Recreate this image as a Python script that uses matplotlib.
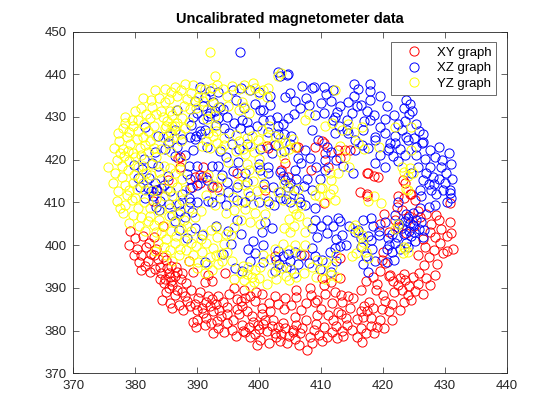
import matplotlib
matplotlib.use("Agg")
import matplotlib.pyplot as plt

# ---------------- data ----------------
xy_pts = [
(379.2,403.2),(379.0,400.0),(380.2,399.2),(381.0,397.6),(381.8,399.6),(382.6,398.0),(383.4,399.0),(380.6,396.0),(382.0,396.4),(383.6,396.8),(381.0,394.2),(382.4,393.8),(384.0,395.0),(385.0,396.5),
(384.2,393.5),(384.8,392.2),(385.4,393.4),(385.8,391.6),(386.4,392.8),(384.6,391.2),(385.2,394.6),(386.0,390.6),(386.8,393.8),(387.4,392.0),(385.6,392.6),(384.0,392.0),
(384.3,387.2),(385.0,389.0),(385.6,386.4),(386.4,388.4),(387.0,386.0),(387.6,389.0),(386.0,385.4),(387.7,384.8),(388.4,387.0),(389.3,382.0),
(389.6,386.2),(390.2,387.6),(390.8,385.4),(391.4,386.8),(392.0,385.8),(392.4,387.4),(393.0,386.2),(393.6,384.8),(394.2,386.6),(391.0,384.2),(392.6,384.6),(390.0,384.8),(391.8,388.2),(393.4,388.0),(394.8,385.6),(391.5,383.0),(392.6,379.4),(394.8,381.7),(394.4,379.6),(393.2,382.2),
(395.8,382.5),(396.4,385.0),(397.0,387.0),(397.7,387.6),(399.3,386.9),(396.8,383.8),(398.0,384.6),
(397.2,381.4),(397.8,379.6),(398.4,380.8),(399.0,382.0),(399.4,379.2),(400.0,380.4),(400.6,381.6),(401.2,379.8),(398.6,378.6),(400.2,377.8),(397.4,380.0),(399.8,381.4),(401.0,382.6),(402.0,381.0),
(403.0,380.8),(403.6,379.2),(404.2,380.6),(404.8,378.8),(405.4,380.2),(406.0,381.4),(406.6,379.4),(404.5,377.0),(405.8,378.0),(403.8,381.8),(407.0,380.6),(407.7,375.5),(405.5,379.6),(402.6,379.4),
(408.2,378.6),(408.8,380.2),(409.6,379.0),(410.4,380.8),(411.0,378.4),(411.8,379.6),(412.4,381.2),(409.2,381.6),
(409.3,387.2),(410.0,385.0),(410.6,388.6),(411.2,383.6),(411.8,386.4),(410.4,390.6),(411.6,391.4),
(412.8,384.4),(413.4,386.6),(414.0,383.0),(414.6,385.4),(415.2,387.6),(415.8,382.8),(413.2,388.4),(414.4,388.0),
(415.8,378.6),(416.4,380.6),(417.2,379.4),(418.0,381.0),(415.0,380.2),
(416.8,383.2),(417.4,384.6),(418.0,383.0),(418.4,385.4),(417.0,385.8),(417.8,386.8),(416.4,384.6),
(419.5,382.5),(419.8,385.0),(420.4,387.0),(421.0,384.6),(420.0,388.4),
(421.4,386.2),(422.7,384.8),(421.8,389.0),(422.4,390.6),(423.0,389.6),(423.6,391.8),(424.2,390.4),(424.8,392.6),(422.8,392.4),(421.6,391.6),(423.4,393.2),(424.0,388.4),(421.2,393.0),
(427.6,390.7),(425.8,393.6),(426.6,395.4),(427.4,397.2),(428.2,398.8),(425.6,397.8),(426.8,399.6),(428.8,395.6),(429.7,398.2),(431.3,399.0),(430.4,398.6),
(426.5,401.4),(427.6,403.0),(428.4,401.8),(429.4,403.8),(430.3,402.2),(430.8,405.5),(427.8,405.0),(429.0,405.8),
(421.0,403.0),(422.4,404.2),(423.8,402.8),(425.0,404.6),(426.0,406.6),(424.2,406.8),(427.0,407.4),(422.0,406.0),
(419.5,394.0),(420.4,395.8),(421.0,392.8),(419.8,396.6),(417.2,391.6),(418.4,392.6),(419.0,391.0),
(391.8,393.0),(394.5,393.6),(402.5,397.4),(407.3,397.8),(410.2,392.3),(413.0,392.3),(413.0,397.0),(399.5,389.0),(398.6,388.0),(400.4,388.6),
(403.0,386.2),(404.2,387.6),(405.2,386.0),(406.0,387.8),(406.7,384.8),(407.5,386.4),(408.4,388.4),(409.0,386.6),(404.0,385.0),
(384.4,404.6),(386.9,420.3),(389.6,416.0),(390.5,416.5),(389.2,413.6),(385.3,415.3),(383.5,413.0),(392.4,413.6),(401.0,412.9),
(401.5,422.8),(406.3,423.0),(409.0,423.0),(410.1,424.4),(410.6,421.6),(404.2,419.2),(404.7,416.0),(403.6,417.6),(411.2,418.4),
(410.4,423.9),(417.4,416.9),(418.5,416.3),(423.3,415.3),(422.2,409.0),(423.4,411.0),(424.3,412.0),(425.2,410.6),(430.8,409.8),(416.3,412.4),(406.0,423.0),(414.7,422.3),(410.4,409.8),(408.3,417.7),(417.4,411.6),
(413.9,422.3),(412.8,422.3),(413.0,420.4),(417.6,416.9),(419.2,416.0),(423.6,414.5),(422.5,411.4),(424.6,412.0),(417.5,412.0),
(387.2,420.7),(391.0,418.4),(391.5,416.0),(390.5,414.5),(393.2,413.7),(396.4,416.8),(401.2,423.1),(382.9,410.3),(387.2,418.4),
(391.3,391.3),(392.4,391.7),(388.6,396.4),(389.4,393.8),
(380.0,401.6),(381.2,402.2),(382.2,400.6),(383.0,401.8),(379.8,397.6),(381.6,395.2),(383.2,394.4),(383.0,397.8),(384.4,397.2),(385.8,395.2),
(386.6,395.0),(387.6,393.4),(388.2,391.2),(386.8,389.6),(385.4,390.0),(388.0,388.0),(388.8,385.8),(389.0,389.4),(390.4,389.0),(390.0,382.6),(391.2,381.4),(393.4,380.6),(395.6,380.2),(396.2,378.8),(396.4,387.4),(395.2,388.6),(396.0,390.0),(397.6,389.6),
(398.8,383.4),(400.4,383.8),(401.8,384.6),(402.2,382.6),(402.8,378.4),(403.4,377.6),(401.6,377.2),(399.6,376.6),(406.4,376.6),(408.6,377.0),(410.2,377.6),(412.6,378.2),(413.4,380.0),(414.2,381.4),(413.6,378.8),(416.6,377.4),(418.6,379.4),(419.0,380.8),(420.2,380.6),(421.4,382.4),(423.4,386.6),(424.6,387.2),(425.2,389.2),(425.6,391.0),(426.4,388.6),(427.0,392.4),(428.4,393.0),(429.2,400.4),(431.0,402.8),(428.6,407.0),(425.6,408.0),(423.0,408.2),(420.2,407.2),(419.6,405.0),(420.0,398.4),(418.8,389.6),(416.4,389.6),(412.2,389.0),(408.2,390.0),(406.0,389.6),(402.6,388.0),(401.6,386.4),(400.4,385.2),(397.2,385.8),(394.8,384.0),(393.8,383.4),(392.2,381.8),(389.8,380.8),
(405.8,383.2),(407.6,382.6),(409.4,383.6),(412.0,382.6),(413.2,383.8),
]

xz_pts = [
(396.9,445.3),(403.4,439.5),(404.5,439.8),(403.0,440.5),(404.6,440.0),
(390.5,437.0),(391.2,434.6),(392.0,436.0),(392.6,433.4),(393.4,435.8),(393.7,432.3),(391.0,432.6),(390.0,431.0),(389.6,433.8),(391.8,430.2),(392.8,431.4),
(395.8,436.2),(397.0,436.8),(398.6,436.4),(400.0,435.8),(401.8,435.0),(396.2,434.0),(397.6,432.0),(399.4,433.0),(400.6,431.6),(401.8,432.8),
(405.0,435.6),(405.8,433.8),(406.6,432.0),(404.2,434.6),(406.9,437.2),(408.5,436.8),
(391.0,429.6),(392.0,431.0),(393.4,429.8),(394.2,431.8),(394.8,430.0),
(386.7,431.6),(389.4,430.0),(389.0,428.2),(390.4,426.8),(391.3,427.0),(389.8,425.6),
(396.0,428.6),(397.2,429.4),(398.0,428.8),(400.2,431.6),(400.7,429.4),(401.8,429.4),(402.9,430.0),(403.8,428.4),(404.6,429.8),(405.6,430.6),(403.0,428.0),
(383.6,425.6),(386.4,427.0),(387.5,424.8),(388.8,425.4),(389.6,424.8),(390.6,426.0),(385.3,425.6),(385.3,424.0),(384.8,422.5),(383.2,421.7),(382.7,419.3),(381.1,417.8),(383.7,418.6),(385.3,416.2),(386.4,420.9),(388.6,418.6),(390.0,418.6),(381.6,427.7),
(396.9,427.4),(398.4,427.0),
(391.6,423.0),(393.7,422.0),(395.6,423.6),(396.8,422.4),(398.0,423.6),(400.2,422.4),(389.4,422.3),(386.8,423.0),
(393.4,418.6),(394.6,420.6),(396.6,419.4),(400.0,419.0),(401.5,416.8),(402.0,421.5),(403.1,425.9),(405.2,425.5),(404.0,422.0),(405.0,423.6),(404.0,426.0),
(395.8,417.4),(397.8,417.0),(400.2,417.6),(401.4,418.4),(403.4,417.2),(405.8,417.6),(406.8,419.2),(407.4,422.3),(406.2,420.4),
(388.8,415.6),(390.0,414.0),(390.8,416.0),(392.6,413.8),(391.6,415.2),
(382.0,413.4),(383.2,414.6),(384.6,414.0),(382.8,411.6),(384.0,410.4),(385.4,409.6),
(387.0,409.6),(388.6,411.0),(390.0,410.0),(391.8,410.4),(393.7,411.0),
(394.8,414.7),(396.4,413.6),(398.0,414.7),(397.8,410.0),(400.0,410.0),
(403.9,416.2),(405.0,414.6),(406.0,415.6),(405.6,413.0),(403.4,412.4),(402.4,409.4),(404.4,410.8),(406.6,410.2),(407.2,413.8),
(408.5,427.0),(409.5,424.6),(412.2,426.2),(412.2,430.0),(411.0,423.0),(410.6,417.6),(409.2,418.4),(404.7,413.6),(404.2,415.2),
(408.8,437.1),(410.4,437.1),(411.9,436.3),(410.0,433.2),(410.4,431.0),(413.1,432.5),(412.0,429.3),(415.3,435.0),(415.8,432.5),(415.3,437.7),(416.0,436.5),(417.9,437.7),(417.9,436.0),(417.9,434.0),(417.4,431.5),(418.5,430.5),(417.9,429.3),(414.2,429.3),(414.2,427.0),
(414.4,433.5),(415.0,431.0),(416.4,432.8),(417.0,429.0),(416.8,427.0),(412.9,428.0),(414.4,426.2),(415.5,424.6),(418.7,425.4),(420.3,426.2),(421.9,425.6),(423.0,427.0),(423.6,429.0),(424.2,430.6),(424.7,431.4),(423.8,434.0),(424.4,433.0),(423.4,432.0),
(426.3,423.8),(422.0,424.0),(422.8,422.6),(424.0,424.6),(425.4,423.0),(426.5,424.2),(427.6,422.3),(429.0,423.0),(430.7,421.6),(429.3,418.4),(428.1,416.0),(430.2,416.8),(427.5,414.4),(426.4,415.2),(424.6,416.8),(420.3,418.4),(420.8,422.3),(415.5,422.3),(416.6,423.4),(417.6,422.8),(418.7,424.6),(421.0,422.8),(418.7,419.2),(427.6,418.4),(428.2,414.4),(429.7,412.9),(430.8,412.9),(428.6,412.0),(426.2,411.4),(430.8,412.1),(421.1,423.9),(423.8,425.4),(426.5,426.0),
(412.4,420.0),(413.6,418.6),(415.2,417.0),
(392.4,410.2),(394.6,409.4),(396.4,410.6),(401.5,410.4),(403.4,411.0),(405.0,410.2),(406.4,411.0),(401.0,405.5),(402.0,404.0),
(402.6,394.0),(403.2,395.6),(403.8,397.4),(404.4,394.8),(405.0,396.4),(405.6,393.6),(406.2,395.6),(406.8,397.8),(403.0,398.6),(404.6,398.0),(405.8,398.4),(402.8,396.6),
(397.2,394.0),(396.1,394.6),(398.6,396.4),(399.4,398.2),(400.6,396.0),
(408.5,404.0),(409.0,405.8),(410.0,404.4),(411.0,406.0),(412.0,404.6),(413.0,405.6),(409.4,402.0),(411.0,402.8),(412.4,401.4),
(408.5,399.4),(409.0,397.4),(410.2,396.6),(411.4,398.4),(412.4,396.2),(413.0,399.8),(409.8,394.4),(411.6,393.8),(408.0,395.8),
(407.4,409.4),(409.0,408.6),
(412.3,399.3),(413.4,402.4),(414.5,404.6),(412.8,406.4),(414.0,400.0),
(416.0,403.6),(416.8,405.8),(417.6,402.2),(418.4,404.6),(419.3,403.4),(415.5,403.0),(416.4,401.6),(418.0,406.4),
(416.4,399.6),(417.2,397.4),(418.2,399.0),(418.7,396.2),(417.6,393.8),(416.8,395.6),(418.0,401.2),
(422.5,410.2),(422.0,407.0),(420.4,405.4),(421.4,402.6),(422.0,400.6),(421.0,400.0),(421.5,398.5),(419.4,402.4),(420.6,399.0),(420.8,401.6),
(423.0,404.0),(423.6,405.6),(424.2,403.4),(424.8,404.8),(425.4,406.0),(425.8,403.8),(424.0,406.4),(423.4,402.6),(424.6,402.2),(425.2,401.0),(423.8,400.6),(422.6,405.0),(424.4,405.2),(425.0,403.0),
(427.4,409.0),(428.4,409.4),(431.0,411.0),(430.4,410.0),(426.0,408.6),
(381.6,411.0),(382.6,412.6),(383.4,409.0),(384.2,413.4),(386.4,405.6),(387.2,408.0),(388.0,406.6),(388.8,410.2),(387.6,412.0),(389.1,407.8),(390.7,402.4),(391.3,396.1),(389.6,404.0),(387.0,403.6),(388.4,401.6),(386.0,407.0),
(383.4,413.0),(385.6,412.6),(388.8,413.4),
(393.0,404.6),(395.0,403.2),(396.4,406.0),(395.4,400.2),(394.2,398.0),
(397.0,402.6),(399.0,401.0),(400.4,403.0),(398.2,399.0),(400.6,400.0),
(425.4,421.0),(426.8,420.2),(428.4,420.6),(429.6,420.0),(431.0,419.0),(430.0,414.6),(429.0,415.6),(427.0,416.8),(425.6,418.2),(422.4,419.6),(421.6,420.8),(419.6,421.2),(423.6,421.0),(426.0,413.0),(427.8,413.0),(431.2,415.4),
(423.8,407.4),(424.8,407.6),(426.2,405.4),(426.6,403.6),(426.4,401.8),(422.2,402.0),(422.8,399.2),(424.0,399.6),(421.8,396.6),(420.6,396.0),
(419.6,434.8),(420.6,432.6),(421.8,430.4),(420.4,429.6),(419.6,427.6),(422.4,428.4),(425.4,428.4),(425.8,426.6),(425.0,425.0),
(410.8,435.4),(411.6,433.8),(412.6,431.2),(409.0,430.4),(408.0,432.8),(407.6,434.4),
(380.8,413.6),(380.4,415.8),(379.8,418.8),(381.4,420.2),(383.8,408.2),(382.2,415.8),
(393.0,428.2),(395.2,426.2),(394.4,427.4),(399.6,427.8),(401.4,426.4),(402.6,423.4),
(388.0,421.0),(388.4,416.6),(392.4,418.6),(394.0,416.4),(395.0,412.4),(398.6,411.4),(400.8,414.4),(402.2,413.6),
(407.8,415.6),(408.6,413.0),(409.8,415.4),(410.6,420.0),(411.6,421.8),(408.2,420.4),
]

yz_pts = [
(392.0,445.3),(392.9,439.5),(403.0,439.5),(403.6,440.2),
(384.8,436.6),(386.4,437.0),(388.0,437.6),(389.4,437.4),(390.6,436.6),(385.4,434.2),(386.8,434.8),(388.4,434.2),(389.6,433.6),
(381.2,434.4),(382.6,434.0),(383.8,434.4),(384.8,433.4),
(378.4,430.0),(380.0,431.4),(381.0,432.0),(382.7,432.4),(384.2,431.4),(385.6,431.4),(378.4,428.6),(379.4,429.4),(380.4,429.4),
(384.4,430.0),(385.2,429.0),(386.0,430.4),(386.8,428.6),(387.6,429.8),(384.8,427.4),(385.6,426.4),(386.4,427.8),(387.2,426.0),(388.0,427.4),(384.4,425.2),(385.4,424.4),(386.2,425.2),(387.4,424.4),(388.6,428.8),(386.6,431.6),(385.0,428.0),(386.0,428.0),
(377.4,424.4),(378.0,422.6),(378.6,425.2),(379.2,423.6),(379.6,421.6),(380.2,424.8),(380.8,422.8),(378.2,420.8),(379.0,426.4),(380.4,426.6),(381.2,425.4),(381.6,423.4),(377.6,421.6),(378.8,422.0),(380.0,420.6),(381.0,421.2),(382.0,421.8),(382.4,424.4),(382.0,426.6),(383.0,427.8),(383.4,425.6),
(375.6,418.3),(376.8,416.8),(377.8,418.6),(378.8,417.6),(379.8,416.4),(380.8,415.8),(379.6,414.6),(378.4,414.0),(377.2,412.6),(378.6,411.8),(380.0,411.0),(381.6,412.8),(381.2,418.6),(382.6,416.4),
(382.7,419.0),(383.8,417.2),(384.6,418.6),(385.6,418.0),(386.4,416.8),(387.2,417.8),(386.0,414.8),(386.8,413.6),(387.6,415.4),(388.0,413.0),(385.2,413.2),(384.2,415.6),(387.4,419.6),
(377.0,410.4),(378.4,409.4),(379.4,410.6),(380.4,408.6),(381.4,410.2),(382.4,408.8),(378.0,407.6),(379.6,407.0),(381.0,406.6),(382.0,405.6),(383.0,404.8),(382.4,406.8),
(383.8,406.0),(384.6,404.6),(385.4,406.8),(386.2,405.4),(387.0,407.4),(387.8,405.8),(384.2,402.8),(385.0,401.4),(385.8,403.4),(386.6,402.2),(387.4,403.8),(388.0,401.2),(384.6,399.6),(385.6,398.8),(386.4,400.4),(387.2,399.2),(384.0,408.2),(385.6,408.8),(386.6,409.6),
(385.0,397.6),(386.0,396.4),(387.0,397.6),(388.2,398.8),
(390.2,396.0),(390.8,398.4),(391.4,400.4),(392.0,397.2),(392.6,399.4),(393.2,401.8),(393.8,398.0),(394.4,400.2),(391.0,402.6),(392.2,403.6),(393.4,395.6),(392.4,394.2),(391.2,393.6),(394.0,396.2),(389.8,399.8),(390.6,401.4),(393.0,404.2),(394.6,402.6),
(389.0,403.4),(389.6,406.6),(390.6,408.0),
(396.0,404.2),(397.0,406.0),(397.8,408.4),(398.6,405.4),(399.4,407.6),(400.2,405.0),(401.0,407.4),(401.6,409.6),(399.0,409.6),(397.2,410.2),
(404.0,404.0),(404.8,406.2),(405.6,404.6),(406.4,406.8),(405.0,403.0),(406.0,407.4),
(402.6,399.0),(403.8,400.2),(404.8,398.8),(405.8,400.0),(407.4,400.0),
(397.0,393.6),(397.6,391.8),(398.2,394.8),(398.8,392.6),(399.4,394.2),(400.0,392.4),(398.0,393.2),(399.2,391.4),(397.4,395.2),(400.2,394.8),
(402.0,393.6),(402.8,392.2),(403.6,394.6),(404.4,392.8),(405.2,394.4),(406.0,392.6),(403.0,395.2),(404.8,391.8),
(409.4,396.6),(410.2,394.2),(410.8,396.0),(411.6,393.0),(409.2,392.6),(410.6,392.0),(411.8,395.2),
(410.7,410.2),(412.3,410.6),(411.4,412.0),(409.6,411.6),(412.0,413.2),(410.2,413.4),
(415.5,404.8),(416.0,403.0),(416.6,402.4),(415.2,404.0),
(415.0,397.4),(415.6,398.2),(416.6,399.8),(417.2,398.4),(417.6,397.0),(416.8,400.8),
(423.2,398.2),(423.6,399.0),(424.0,398.4),(423.4,399.6),
(422.0,403.8),(422.4,405.0),
(417.6,410.4),(418.6,411.6),
(391.3,436.6),(392.0,434.8),(392.6,433.2),(391.6,431.6),(392.8,430.2),(393.4,432.4),(391.0,433.8),(392.4,436.8),(393.2,437.4),(391.6,429.6),
(396.7,436.6),(398.3,436.4),(399.4,436.8),(400.6,436.2),(400.0,435.4),
(396.7,431.6),(397.6,432.4),(398.3,431.0),(397.2,433.4),
(408.0,430.8),(407.4,429.4),(411.8,428.5),(410.6,428.0),
(391.4,424.4),(392.0,422.8),(392.6,425.6),(393.2,423.8),(393.8,422.4),(394.4,425.0),(391.8,426.2),(393.0,426.6),
(396.8,424.4),(397.4,422.6),(398.0,425.0),(398.6,423.2),(399.2,421.8),(399.8,424.6),(397.8,421.4),(398.8,425.6),
(403.0,423.4),(403.6,421.8),(404.2,424.2),(404.8,422.6),(405.4,424.8),(403.4,425.0),
(391.8,416.4),(392.6,414.0),(393.6,412.6),(391.4,411.8),(393.8,415.8),
(397.2,416.2),(397.8,414.0),(398.4,417.6),(399.0,415.0),(399.6,412.6),(400.4,416.6),(398.2,412.4),(399.8,418.2),
(403.0,412.4),(403.8,410.6),(404.6,413.6),(405.4,411.6),(406.2,413.2),(404.0,414.6),
(409.0,411.8),(409.8,413.4),(411.6,415.2),(411.4,417.0),
(412.3,436.3),(413.4,427.0),(414.4,428.4),(415.4,426.4),(416.6,427.7),(421.9,427.7),(424.6,427.7),(424.6,422.3),(413.0,423.2),(416.0,424.0),(417.0,422.4),(419.3,423.0),(413.9,420.7),(412.8,416.8),(414.5,418.4),
(423.4,417.2),(424.0,416.2),(424.4,418.0),(423.0,418.4),(424.8,417.0),(423.8,413.2),(424.1,412.9),
(419.7,409.8),(395.0,419.4),(401.6,427.8),(400.4,427.0),(395.6,437.2),
(377.0,420.0),(376.6,422.8),(377.2,426.2),(378.0,427.4),(379.6,427.8),(381.4,428.4),(382.4,429.8),(383.4,430.6),(381.8,430.8),(383.2,436.4),(385.8,435.8),(387.4,436.2),(389.0,435.6),(390.2,434.6),(388.8,431.8),(387.8,432.6),(389.8,432.0),
(379.0,419.6),(380.4,418.4),(381.8,416.8),(383.4,420.6),(384.2,422.6),(385.8,421.8),(383.0,422.8),(381.2,414.6),(380.2,413.2),(382.8,413.0),(383.4,410.8),(384.8,411.6),(386.0,411.4),(387.6,410.6),(388.6,408.6),(388.4,404.4),(389.0,400.6),(389.4,397.8),(388.6,396.2),(390.0,394.6),(391.6,395.6),(393.0,397.6),(394.8,398.4),(395.6,396.4),(395.4,402.4),
(379.0,405.2),(380.6,404.6),(381.6,403.4),(383.4,403.0),(383.6,400.6),(383.2,398.6),
(377.8,416.0),(376.4,414.6),(379.0,412.8),(377.6,408.6),
(397.6,437.4),(399.0,438.0),(401.4,436.8),(401.2,434.6),(394.8,434.8),(394.2,436.6),(395.0,432.6),
(392.8,427.8),(394.4,423.4),(390.8,423.2),(396.2,425.8),(396.2,422.0),(400.4,423.0),(401.2,425.2),(402.6,425.6),(405.8,423.0),(404.0,420.4),
(396.6,414.4),(398.0,419.0),(400.0,420.2),(400.6,413.8),(401.0,411.6),(395.8,411.2),(392.8,409.4),(394.6,407.6),(396.0,408.2),
(405.4,408.8),(406.8,409.4),(407.8,405.4),(407.4,403.0),(406.6,398.0),(401.8,396.8),(400.6,397.6),(401.2,390.8),(396.0,392.2),(398.6,390.4),(407.2,393.6),(408.6,394.8),(412.4,397.8),(412.6,392.6),
]

series_labels = ["XY graph", "XZ graph", "YZ graph"]
series_colors = ["#ff0000", "#0000ff", "#ffff00"]
x_ticks = [370, 380, 390, 400, 410, 420, 430, 440]
y_ticks = [370, 380, 390, 400, 410, 420, 430, 440, 450]
title_text = "Uncalibrated magnetometer data"

# ---------------- plotting ----------------
plt.rcParams['font.family'] = ['Liberation Sans', 'DejaVu Sans']
fig = plt.figure(figsize=(5.6, 4.2), dpi=100, facecolor='white')
ax = fig.add_axes([0.131, 0.111, 0.774, 0.814])

for pts, lab, col in zip([xy_pts, xz_pts, yz_pts], series_labels, series_colors):
    xs = [p[0] for p in pts]
    ys = [p[1] for p in pts]
    ax.plot(xs, ys, 'o', linestyle='none', markerfacecolor='none',
            markeredgecolor=col, markersize=6.6, markeredgewidth=0.7, label=lab)

ax.set_xlim(370, 440)
ax.set_ylim(370, 450)
ax.set_xticks(x_ticks)
ax.set_yticks(y_ticks)
gray = '#262626'
ax.tick_params(direction='in', top=True, right=True, length=4, width=0.5,
               colors=gray, labelsize=9.5, labelcolor=gray, pad=5)
for sp in ax.spines.values():
    sp.set_linewidth(0.6)
    sp.set_color(gray)
ax.set_title(title_text, fontsize=10.5, fontweight='bold', color='black', pad=6)

leg = ax.legend(loc='upper right', fontsize=9.5, frameon=True, fancybox=False,
                edgecolor=gray, borderpad=0.35, labelspacing=0.25,
                handletextpad=0.35, handlelength=2.8, borderaxespad=0.8)
leg.get_frame().set_linewidth(0.6)

fig.savefig('out.png', dpi=100, facecolor='white')
